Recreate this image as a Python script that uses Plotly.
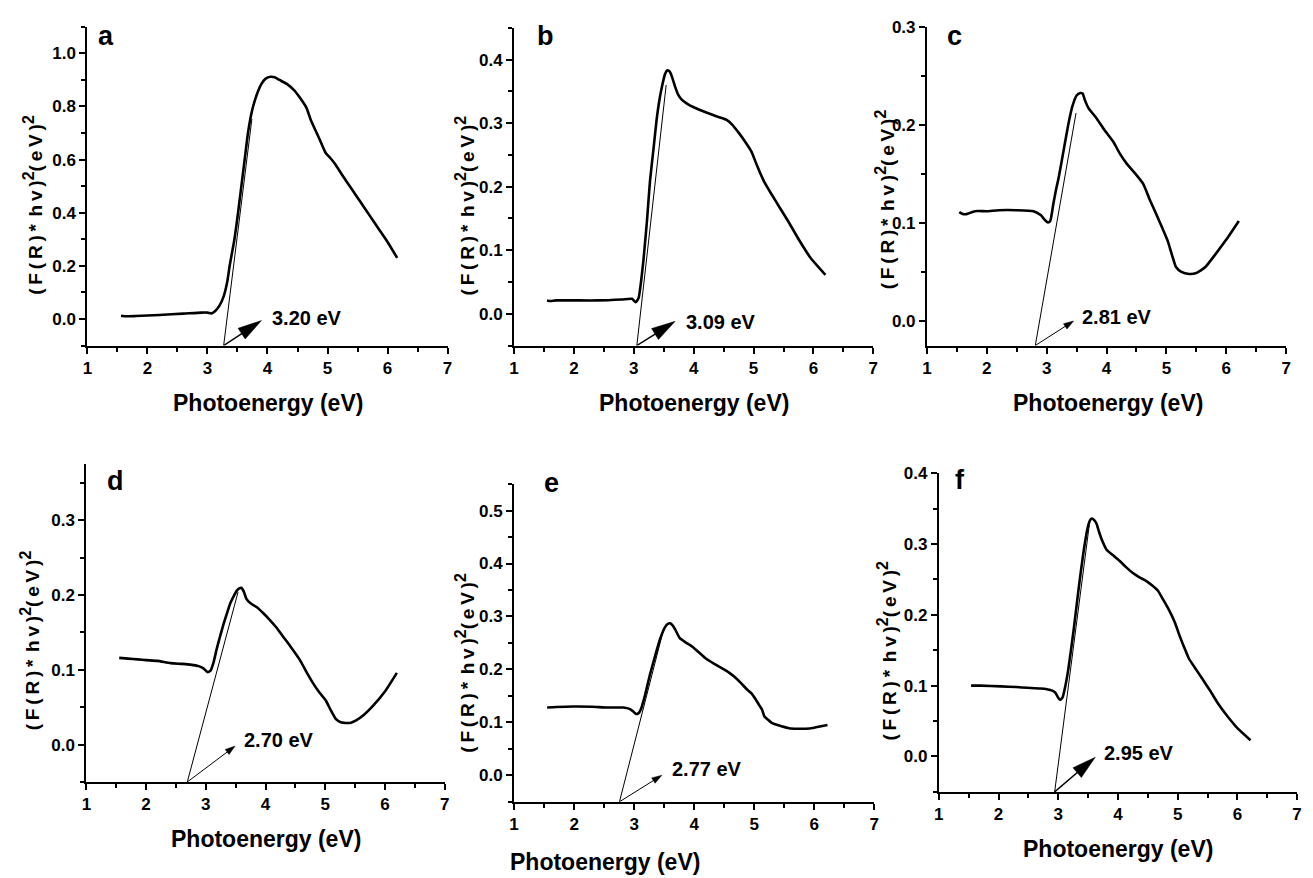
import math
import plotly.graph_objects as go

# ---------------- data ----------------
panel_letters = ["a", "b", "c", "d", "e", "f"]
gap_labels = ["3.20 eV", "3.09 eV", "2.81 eV", "2.70 eV", "2.77 eV", "2.95 eV"]
x_ticks = [1, 2, 3, 4, 5, 6, 7]

a_x = [1.56, 1.65, 1.8, 2.2, 2.6, 2.9, 3.0, 3.07, 3.13, 3.2, 3.27, 3.33, 3.37, 3.41, 3.45, 3.51, 3.565, 3.62,
       3.675, 3.72, 3.76, 3.83, 3.9, 3.97, 4.05, 4.12, 4.2, 4.32, 4.45, 4.55, 4.65, 4.72, 4.82, 4.9, 4.97, 5.05,
       5.12, 5.25, 5.4, 5.55, 5.7, 5.85, 6.0, 6.16]
a_y = [0.012, 0.010, 0.011, 0.015, 0.020, 0.024, 0.024, 0.021, 0.030, 0.050, 0.085, 0.14, 0.20, 0.25, 0.30, 0.40,
       0.50, 0.60, 0.70, 0.76, 0.80, 0.85, 0.885, 0.905, 0.912, 0.91, 0.90, 0.885, 0.86, 0.83, 0.795, 0.75, 0.70,
       0.66, 0.625, 0.605, 0.585, 0.54, 0.49, 0.44, 0.39, 0.34, 0.29, 0.23]

b_x = [1.55, 1.6, 1.7, 2.0, 2.4, 2.8, 2.97, 3.03, 3.08, 3.12, 3.16, 3.22, 3.27, 3.33, 3.38, 3.43, 3.48, 3.52, 3.56,
       3.60, 3.64, 3.69, 3.74, 3.8, 3.9, 4.0, 4.2, 4.4, 4.55, 4.65, 4.75, 4.85, 4.96, 5.05, 5.18, 5.3, 5.43, 5.6,
       5.76, 5.95, 6.2]
b_y = [0.021, 0.020, 0.021, 0.021, 0.021, 0.0225, 0.0235, 0.018, 0.025, 0.05, 0.084, 0.147, 0.209, 0.261, 0.305,
       0.338, 0.362, 0.377, 0.383, 0.381, 0.372, 0.357, 0.345, 0.337, 0.330, 0.325, 0.317, 0.310, 0.305, 0.297,
       0.285, 0.272, 0.256, 0.235, 0.207, 0.188, 0.168, 0.142, 0.116, 0.088, 0.061]

c_x = [1.54, 1.6, 1.66, 1.8, 2.0, 2.2, 2.5, 2.78, 2.9, 2.97, 3.02, 3.06, 3.11, 3.16, 3.20, 3.28, 3.36, 3.43, 3.5,
       3.56, 3.6, 3.64, 3.7, 3.83, 3.95, 4.11, 4.22, 4.33, 4.47, 4.61, 4.72, 4.83, 4.93, 5.02, 5.1, 5.16, 5.25,
       5.38, 5.5, 5.65, 5.83, 6.0, 6.21]
c_y = [0.111, 0.109, 0.109, 0.112, 0.112, 0.113, 0.113, 0.112, 0.108, 0.103, 0.1005, 0.102, 0.119, 0.135, 0.146,
       0.173, 0.20, 0.219, 0.230, 0.2325, 0.232, 0.225, 0.217, 0.207, 0.196, 0.183, 0.171, 0.161, 0.151, 0.140,
       0.124, 0.109, 0.095, 0.082, 0.066, 0.055, 0.050, 0.048, 0.049, 0.055, 0.069, 0.083, 0.102]

d_x = [1.55, 1.7, 1.86, 2.0, 2.19, 2.41, 2.6, 2.74, 2.88, 2.96, 3.03, 3.08, 3.13, 3.18, 3.24, 3.30, 3.36, 3.41,
       3.47, 3.52, 3.56, 3.60, 3.64, 3.68, 3.75, 3.85, 3.96, 4.07, 4.18, 4.29, 4.43, 4.57, 4.68, 4.79, 4.9, 5.01,
       5.1, 5.18, 5.26, 5.34, 5.42, 5.51, 5.65, 5.78, 6.0, 6.2]
d_y = [0.116, 0.115, 0.114, 0.113, 0.112, 0.109, 0.108, 0.107, 0.105, 0.102, 0.097, 0.099, 0.110, 0.127, 0.145,
       0.162, 0.177, 0.189, 0.199, 0.206, 0.209, 0.2095, 0.204, 0.195, 0.189, 0.184, 0.176, 0.167, 0.157, 0.145,
       0.130, 0.114, 0.098, 0.083, 0.070, 0.059, 0.045, 0.034, 0.030, 0.029, 0.029, 0.032, 0.040, 0.050, 0.071,
       0.096]

e_x = [1.55, 1.7, 1.99, 2.3, 2.55, 2.82, 2.93, 2.98, 3.03, 3.07, 3.11, 3.18, 3.26, 3.35, 3.43, 3.51, 3.56, 3.60,
       3.64, 3.68, 3.76, 3.87, 3.98, 4.09, 4.20, 4.34, 4.48, 4.58, 4.67, 4.78, 4.88, 4.95, 5.02, 5.08, 5.13, 5.17,
       5.22, 5.30, 5.44, 5.58, 5.72, 5.86, 6.0, 6.22]
e_y = [0.128, 0.129, 0.130, 0.1295, 0.128, 0.128, 0.125, 0.121, 0.116, 0.117, 0.124, 0.151, 0.189, 0.226, 0.257,
       0.279, 0.286, 0.287, 0.283, 0.276, 0.259, 0.250, 0.242, 0.231, 0.220, 0.210, 0.201, 0.194, 0.186, 0.174,
       0.162, 0.155, 0.144, 0.133, 0.124, 0.111, 0.106, 0.0985, 0.093, 0.089, 0.088, 0.088, 0.090, 0.095]

f_x = [1.54, 1.7, 2.04, 2.3, 2.48, 2.7, 2.81, 2.9, 2.95, 3.0, 3.03, 3.07, 3.12, 3.17, 3.26, 3.34, 3.42, 3.49, 3.53,
       3.56, 3.60, 3.64, 3.68, 3.73, 3.81, 3.92, 4.03, 4.14, 4.25, 4.36, 4.47, 4.58, 4.67, 4.76, 4.86, 4.95, 5.03,
       5.11, 5.19, 5.3, 5.41, 5.55, 5.69, 5.85, 6.0, 6.22]
f_y = [0.100, 0.100, 0.099, 0.098, 0.097, 0.096, 0.095, 0.093, 0.090, 0.083, 0.080, 0.083, 0.100, 0.124, 0.180,
       0.236, 0.287, 0.322, 0.333, 0.336, 0.334, 0.329, 0.318, 0.306, 0.292, 0.284, 0.276, 0.267, 0.259, 0.253,
       0.248, 0.241, 0.234, 0.221, 0.206, 0.190, 0.171, 0.154, 0.138, 0.124, 0.110, 0.092, 0.073, 0.055, 0.040,
       0.023]

curves_x = [a_x, b_x, c_x, d_x, e_x, f_x]
curves_y = [a_y, b_y, c_y, d_y, e_y, f_y]

# tangent (extrapolation) lines: [x_start, x_end], [y_start, y_end]
tangent_x = [[3.27, 3.74], [3.05, 3.54], [2.81, 3.49], [2.69, 3.54], [2.755, 3.47], [2.94, 3.52]]
tangent_y = [[-0.1, 0.753], [-0.05, 0.36], [-0.025, 0.212], [-0.05, 0.204], [-0.05, 0.267], [-0.05, 0.327]]

# arrow heads and label anchors (data coordinates)
arrow_head_x = [3.90, 3.69, 3.45, 3.49, 3.46, 3.62]
arrow_head_y = [-0.006, -0.012, 0.0, -0.002, 0.0, -0.001]
label_x = [4.04, 3.84, 3.56, 3.60, 3.59, 3.74]
label_y = [0.002, -0.0135, 0.0044, 0.0057, 0.011, 0.005]

y_ranges = [[-0.1, 1.1], [-0.05, 0.45], [-0.025, 0.3], [-0.05, 0.375], [-0.05, 0.55], [-0.05, 0.4]]
y_tick_vals = [[0.0, 0.2, 0.4, 0.6, 0.8, 1.0], [0.0, 0.1, 0.2, 0.3, 0.4], [0.0, 0.1, 0.2, 0.3],
               [0.0, 0.1, 0.2, 0.3], [0.0, 0.1, 0.2, 0.3, 0.4, 0.5], [0.0, 0.1, 0.2, 0.3, 0.4]]
y_minor_dt = [0.1, 0.05, 0.05, 0.05, 0.05, 0.05]

# ---------------- layout geometry (pixels) ----------------
W, H = 1313, 878
X_RANGE = [1, 7]
plot_px = [  # left, right, top, bottom
    (83, 446, 18, 340), (513, 875, 19, 340), (929, 1291, 18, 340),
    (82, 443, 460, 781), (513, 876, 480, 801), (941, 1302, 469, 791),
]
letter_px = [(102, 27), (545, 27), (957, 27), (111, 477), (551, 479), (962, 476)]
xtitle_px = [(265, 398), (694, 398), (1111, 398), (263, 839), (605, 862), (1122, 849)]
ytitle_px = [(28, 198), (464, 198), (887, 192), (26, 638), (464, 660), (889, 648)]
big_head = [True, True, False, False, False, True]

FONT = "Liberation Sans, Arial"


def px_x(v):
    return v / W


def px_y(v):
    return 1 - v / H


fig = go.Figure()
annotations = []
layout_axes = {}

sup2 = "<sup><span style='font-size:16px'>2</span></sup>"
ytitle_text = ("(\u2009F\u2009(\u2009R\u2009)\u2009*\u2009\u2009h\u2009v\u2009)" + sup2 +
               "(\u2009e\u2009V\u2009)" + sup2)

tickfont = dict(family=FONT, size=17, color="black")

for i in range(6):
    n = "" if i == 0 else str(i + 1)
    xa, ya = "x" + n, "y" + n
    l, r, t, b = plot_px[i]
    layout_axes["xaxis" + n] = dict(
        domain=[px_x(l), px_x(r)], anchor=ya, range=X_RANGE, tickmode="array", tickvals=x_ticks,
        ticktext=["<b>%d</b>" % v for v in x_ticks],
        ticks="outside", ticklen=6, tickwidth=2, tickcolor="black", showline=True, linewidth=2,
        linecolor="black", showgrid=False, zeroline=False, tickfont=tickfont,
        minor=dict(dtick=0.5, tick0=1, ticks="outside", ticklen=4, tickwidth=1.5, tickcolor="black",
                   showgrid=False),
    )
    layout_axes["yaxis" + n] = dict(
        domain=[px_y(b), px_y(t)], anchor=xa, range=y_ranges[i], tickmode="array", tickvals=y_tick_vals[i],
        ticktext=["<b>%.1f</b>" % v for v in y_tick_vals[i]],
        ticks="outside", ticklen=6, tickwidth=2, tickcolor="black", showline=True,
        linewidth=2, linecolor="black", showgrid=False, zeroline=False, tickfont=tickfont,
        minor=dict(dtick=y_minor_dt[i], tick0=0, ticks="outside", ticklen=4, tickwidth=1.5,
                   tickcolor="black", showgrid=False),
    )

    fig.add_trace(go.Scatter(x=curves_x[i], y=curves_y[i], mode="lines", xaxis=xa, yaxis=ya,
                             line=dict(color="black", width=2.6, shape="spline", smoothing=0.5),
                             showlegend=False, hoverinfo="skip"))
    fig.add_trace(go.Scatter(x=tangent_x[i], y=tangent_y[i], mode="lines", xaxis=xa, yaxis=ya,
                             line=dict(color="black", width=1), showlegend=False, hoverinfo="skip"))

    # arrow: shaft + filled triangular head, derived from the tail/head points via the axis scales
    sx = (r - l) / (X_RANGE[1] - X_RANGE[0])          # px per data unit (x)
    sy = (b - t) / (y_ranges[i][1] - y_ranges[i][0])  # px per data unit (y)
    tx0, ty0 = tangent_x[i][0], tangent_y[i][0]
    hx, hy = arrow_head_x[i], arrow_head_y[i]
    ux, uy = (hx - tx0) * sx, (hy - ty0) * sy
    norm = math.hypot(ux, uy)
    ux, uy = ux / norm, uy / norm
    L, w, lw = (24, 6.5, 1.5) if big_head[i] else (10, 3.2, 1.0)
    bx, by = -ux * L, -uy * L
    tri_x = [hx, hx + (bx - uy * w) / sx, hx + (bx + uy * w) / sx, hx]
    tri_y = [hy, hy + (by + ux * w) / sy, hy + (by - ux * w) / sy, hy]
    fig.add_trace(go.Scatter(x=[tx0, hx + bx * 0.8 / sx], y=[ty0, hy + by * 0.8 / sy], mode="lines",
                             xaxis=xa, yaxis=ya, line=dict(color="black", width=lw),
                             showlegend=False, hoverinfo="skip", cliponaxis=False))
    fig.add_trace(go.Scatter(x=tri_x, y=tri_y, mode="lines", fill="toself", fillcolor="black",
                             xaxis=xa, yaxis=ya, line=dict(color="black", width=0.5),
                             showlegend=False, hoverinfo="skip"))

    annotations.append(dict(x=label_x[i], y=label_y[i], xref=xa, yref=ya, text="<b>%s</b>" % gap_labels[i],
                            showarrow=False, xanchor="left", yanchor="middle",
                            font=dict(family=FONT, size=20, color="black")))
    lx, ly = letter_px[i]
    annotations.append(dict(x=px_x(lx), y=px_y(ly), xref="paper", yref="paper",
                            text="<b>%s</b>" % panel_letters[i],
                            showarrow=False, xanchor="center", yanchor="middle",
                            font=dict(family=FONT, size=27, color="black")))
    tx, ty = xtitle_px[i]
    annotations.append(dict(x=px_x(tx), y=px_y(ty), xref="paper", yref="paper", text="<b>Photoenergy (eV)</b>",
                            showarrow=False, xanchor="center", yanchor="middle",
                            font=dict(family=FONT, size=23, color="black")))
    yx, yy = ytitle_px[i]
    annotations.append(dict(x=px_x(yx), y=px_y(yy), xref="paper", yref="paper", text="<b>%s</b>" % ytitle_text,
                            showarrow=False, xanchor="center", yanchor="middle", textangle=-90,
                            font=dict(family=FONT, size=19, color="black")))

fig.update_layout(
    width=W, height=H, margin=dict(l=0, r=0, t=0, b=0), paper_bgcolor="white", plot_bgcolor="white",
    showlegend=False, annotations=annotations, **layout_axes,
)

post = ("document.documentElement.style.margin='0';document.body.style.margin='0';"
        "document.body.style.overflow='hidden';"
        "var gd=document.getElementsByClassName('plotly-graph-div')[0];"
        "gd.style.position='absolute';gd.style.left='0px';gd.style.top='0px';")
fig.write_html("out.html", config={"displayModeBar": False}, post_script=post)
